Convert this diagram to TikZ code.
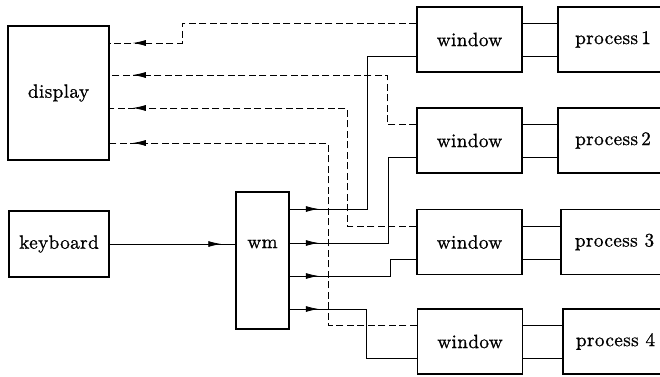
\documentclass[tikz,border=0pt]{standalone}
\usepackage{fontspec}
\setmainfont{lmroman10-regular.otf}[FakeBold=0.9,LetterSpace=2]
\usetikzlibrary{arrows.meta,decorations.markings}
\begin{document}
\begin{tikzpicture}[x=1pt,y=-1pt,
  font=\fontsize{19.2}{22}\selectfont,
  box/.style={draw, line width=1.5pt, inner sep=0pt, rectangle},
  winbox/.style={box, minimum width=105pt, minimum height=65pt},
  conn/.style={line width=0.8pt},
  dsh/.style={conn, dash pattern=on 7pt off 3.5pt},
  markat/.style={postaction={decorate}, decoration={markings, mark=at position #1 with {\arrow{Latex[length=13pt,width=6pt]}}}}
]
\path[use as bounding box] (0,0) rectangle (660,376);
\clip (0,0) rectangle (660,376);

% main boxes
\node[box, minimum width=101pt, minimum height=134pt] (display) at (58.5,93) {display};
\node[box, minimum width=100pt, minimum height=66pt] (keyboard) at (59,244) {keyboard};
\node[box, minimum width=53pt, minimum height=137pt] (wm) at (262.5,260.5) {};
\node (wmtext) at (262.5,244) {wm};

% windows
\node[winbox] (w1) at (469.5,39.5) {window};
\node[winbox] (w2) at (469.5,140.5) {window};
\node[winbox] (w3) at (469.5,242) {window};
\node[winbox] (w4) at (470,341.5) {window};

% processes (right edge cut off by the page)
\node[box, minimum width=110pt, minimum height=65pt] (p1) at (613,39.5) {process\,1};
\node[box, minimum width=110pt, minimum height=65pt] (p2) at (613,140.5) {process\,2};
\node[box, minimum width=107pt, minimum height=65pt] (p3) at (614.5,242) {process 3};
\node[box, minimum width=105pt, minimum height=65pt] (p4) at (615.5,341.5) {process 4};

% window <-> process links
\foreach \i in {1,2,3,4}{
  \draw[conn] ([yshift=16pt]w\i.east) -- ([yshift=16pt]w\i.east -| p\i.west);
  \draw[conn] ([yshift=-17pt]w\i.east) -- ([yshift=-17pt]w\i.east -| p\i.west);
}

% keyboard -> wm
\draw[conn, markat=-14pt] (keyboard.east) -- (wm.west |- keyboard.east);

% wm -> windows (solid)
\draw[conn, markat=29pt] (wm.east |- 0,209) -- (367,209) |- ([yshift=-17pt]w1.west);
\draw[conn, markat=29pt] (wm.east |- 0,243) -- (388,243) |- ([yshift=-17pt]w2.west);
\draw[conn, markat=29pt] (wm.east |- 0,276) -- (390,276) |- ([yshift=-17pt]w3.west);
\draw[conn, markat=29pt] (wm.east |- 0,309) -- (366,309) |- ([yshift=-17pt]w4.west);

% windows -> display (dashed)
\draw[dsh, markat=-23pt] ([yshift=16pt]w1.west) -| (182,43) -- (display.east |- 0,43);
\draw[dsh, markat=-23pt] ([yshift=16pt]w2.west) -| (387,75) -- (display.east |- 0,75);
\draw[dsh, markat=-23pt] ([yshift=16pt]w3.west) -| (347,108) -- (display.east |- 0,108);
\draw[dsh, markat=-23pt] ([yshift=16pt]w4.west) -| (328,143) -- (display.east |- 0,143);
\end{tikzpicture}
\end{document}
